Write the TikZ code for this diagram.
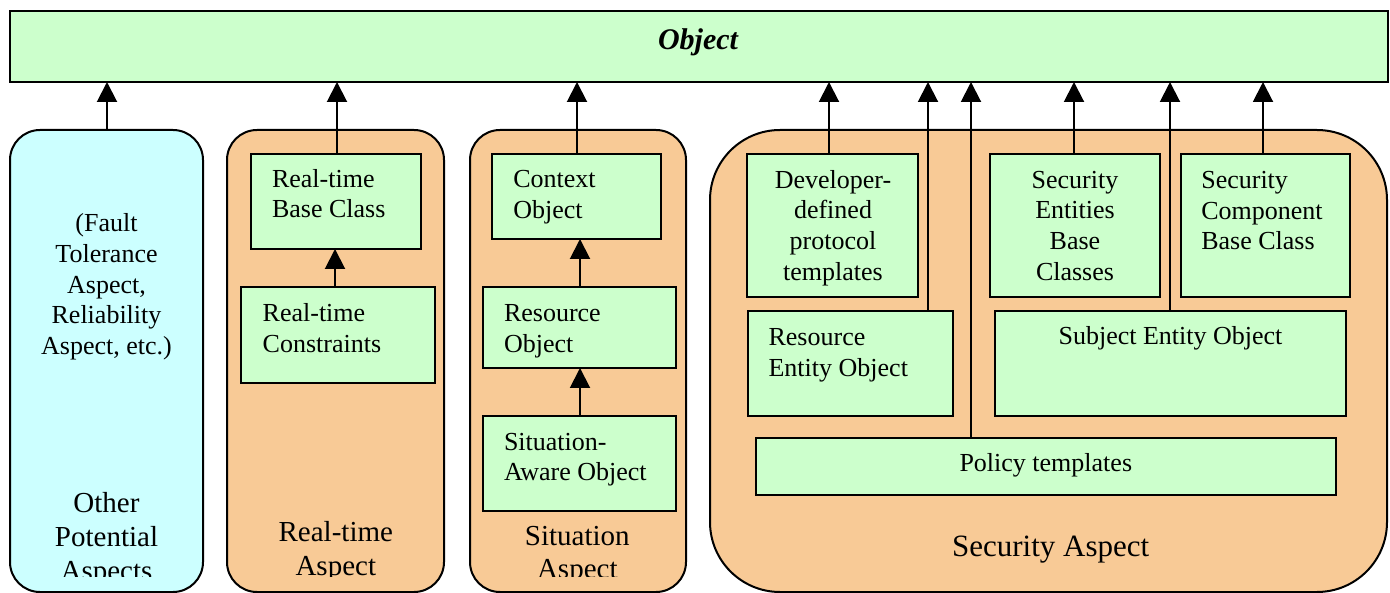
\documentclass[tikz,border=0pt]{standalone}
\usepackage{fontspec}
\setmainfont{Liberation Serif}
\usetikzlibrary{arrows.meta}
\definecolor{objgreen}{HTML}{CCFFCC}
\definecolor{aspcyan}{HTML}{CCFFFF}
\definecolor{asporange}{HTML}{F8CA96}
\tikzset{
  box/.style={draw, line width=2pt, fill=objgreen, inner sep=0pt, outer sep=0pt, anchor=north west},
  aspectbox/.style={draw, line width=2pt, fill=asporange, inner sep=0pt, outer sep=0pt,
    anchor=north west, rounded corners=30pt},
  txt/.style={inner sep=0pt, outer sep=0pt, font=\fontsize{26}{30.8}\selectfont},
  lbl/.style={inner sep=0pt, outer sep=0pt, font=\fontsize{29}{33.8}\selectfont, align=center, anchor=base},
  inherit/.style={line width=2pt, -{Triangle[width=20pt,length=20pt]}},
}
\begin{document}
\begin{tikzpicture}[x=1pt,y=-1pt]
\useasboundingbox (0,0) rectangle (1390,593);
\clip (0,0) rectangle (1390,593);

% top-level class
\node[box, minimum width=1378pt, minimum height=71pt] (obj) at (10,11) {};
\node[inner sep=0pt, font=\fontsize{30}{34}\selectfont\bfseries\itshape] (objtxt) at (698,42) {Object};

% aspect containers
\node[aspectbox, fill=aspcyan, minimum width=193pt, minimum height=462pt] (other) at (10,130) {};
\node[aspectbox, minimum width=217pt, minimum height=462pt] (rtasp) at (227,130) {};
\node[aspectbox, minimum width=216pt, minimum height=462pt] (sitasp) at (470,130) {};
\node[aspectbox, rounded corners=70pt, minimum width=677pt, minimum height=462pt] (secasp) at (710,130) {};

% real-time aspect
\node[box, minimum width=170pt, minimum height=95pt] (rtbase) at (251,154) {};
\node[box, minimum width=194pt, minimum height=96pt] (rtcons) at (241,287) {};

% situation aspect
\node[box, minimum width=169pt, minimum height=85pt] (ctx) at (492,154) {};
\node[box, minimum width=193pt, minimum height=81pt] (res) at (483,287) {};
\node[box, minimum width=193pt, minimum height=95pt] (sao) at (483,416) {};

% security aspect
\node[box, minimum width=171pt, minimum height=143pt] (dev) at (747,154) {};
\node[box, minimum width=170pt, minimum height=143pt] (sent) at (990,154) {};
\node[box, minimum width=169pt, minimum height=143pt] (scomp) at (1181,154) {};
\node[box, minimum width=205pt, minimum height=105pt] (rent) at (748,311) {};
\node[box, minimum width=351pt, minimum height=105pt] (subj) at (995,311) {};
\node[box, minimum width=580pt, minimum height=57pt] (pol) at (756,438) {};

% box texts (anchored at the baseline of the last line)
\node[txt, align=center, anchor=base] (t-other) at (106.5,354.7) {(Fault\\Tolerance\\Aspect,\\Reliability\\Aspect, etc.)};
\node[txt, align=left, anchor=base west] (t-rtbase) at (272,218) {Real-time\\Base Class};
\node[txt, align=left, anchor=base west] (t-rtcons) at (262.7,352.7) {Real-time\\Constraints};
\node[txt, align=left, anchor=base west] (t-ctx) at (513.3,218.5) {Context\\Object};
\node[txt, align=left, anchor=base west] (t-res) at (504,352.3) {Resource\\Object};
\node[txt, align=left, anchor=base west] (t-sao) at (504,481) {Situation-\\Aware Object};
\node[txt, align=center, anchor=base] (t-dev) at (833,280.5) {Developer-\\defined\\protocol\\templates};
\node[txt, align=center, anchor=base] (t-sent) at (1075,280.5) {Security\\Entities\\Base\\Classes};
\node[txt, align=left, anchor=base west] (t-scomp) at (1201.3,250) {Security\\Component\\Base Class};
\node[txt, align=left, anchor=base west] (t-rent) at (768.6,376.3) {Resource\\Entity Object};
\node[txt, anchor=base] (t-subj) at (1170.5,345) {Subject Entity Object};
\node[txt, anchor=base] (t-pol) at (1045.8,471.7) {Policy templates};

% aspect labels (their text frames cut the last line)
\begin{scope}
\clip (0,0) rectangle (1390,576);
\node[lbl] (l-other) at (106.5,580.3) {Other\\Potential\\Aspects};
\node[lbl] (l-rt) at (335.8,575.5) {Real-time\\Aspect};
\node[lbl] (l-sit) at (577.3,578.8) {Situation\\Aspect};
\end{scope}
\node[lbl, font=\fontsize{31}{36}\selectfont] (l-sec) at (1050.7,556.7) {Security Aspect};

% arrow columns
\coordinate (xo) at (107,0);
\coordinate (xrt) at (337,0);
\coordinate (xrc) at (335,0);
\coordinate (xsit) at (577,0);
\coordinate (xres) at (580,0);
\coordinate (xdev) at (829,0);
\coordinate (xrent) at (928,0);
\coordinate (xpol) at (971,0);
\coordinate (xsent) at (1074,0);
\coordinate (xsubj) at (1170,0);
\coordinate (xscomp) at (1263,0);

% inheritance arrows
\draw[inherit] (other.north -| xo) -- (obj.south -| xo);
\draw[inherit] (rtbase.north -| xrt) -- (obj.south -| xrt);
\draw[inherit] (rtcons.north -| xrc) -- (rtbase.south -| xrc);
\draw[inherit] (ctx.north -| xsit) -- (obj.south -| xsit);
\draw[inherit] (res.north -| xres) -- (ctx.south -| xres);
\draw[inherit] (sao.north -| xres) -- (res.south -| xres);
\draw[inherit] (dev.north -| xdev) -- (obj.south -| xdev);
\draw[inherit] (rent.north -| xrent) -- (obj.south -| xrent);
\draw[inherit] (pol.north -| xpol) -- (obj.south -| xpol);
\draw[inherit] (sent.north -| xsent) -- (obj.south -| xsent);
\draw[inherit] (subj.north -| xsubj) -- (obj.south -| xsubj);
\draw[inherit] (scomp.north -| xscomp) -- (obj.south -| xscomp);
\end{tikzpicture}
\end{document}
